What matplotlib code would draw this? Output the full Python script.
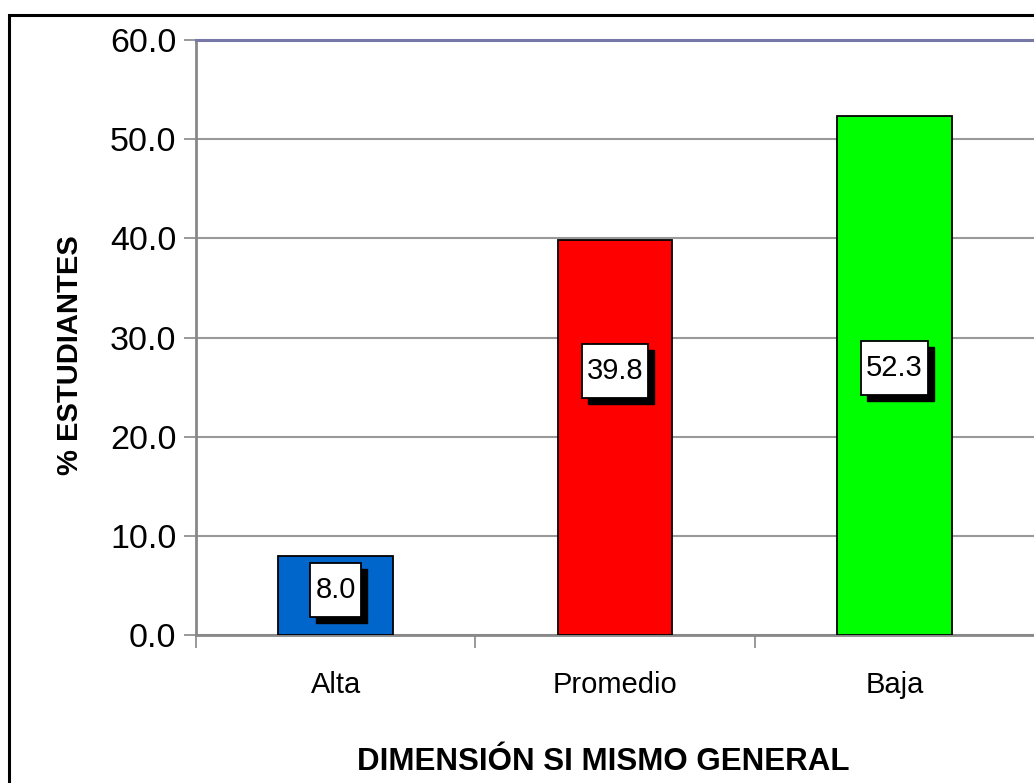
import matplotlib
matplotlib.use("Agg")
import matplotlib.pyplot as plt
from matplotlib.patches import Rectangle
import matplotlib.transforms as mtransforms
import numpy as np

categories = ["Alta", "Promedio", "Baja"]
values = [8.0, 39.8, 52.3]
label_y = [4.5, 26.6, 26.9]
colors = ["#0066CC", "#FF0000", "#00FF00"]
yticks = [0, 10, 20, 30, 40, 50, 60]

plt.rcParams['font.family'] = ['Liberation Sans', 'DejaVu Sans']
W, H = 1034, 783
fig = plt.figure(figsize=(W/100, H/100), dpi=100)
fig.patches.append(Rectangle((9/W, -0.1), 1.2, 1 - 15/H + 0.1, transform=fig.transFigure,
                             fill=False, edgecolor='black', linewidth=2.2))

ax = fig.add_axes([196/W, 1 - 635/H, 1 - 196/W, (635 - 40)/H])
x = np.arange(len(categories))
ax.bar(x, values, width=0.41, color=colors, edgecolor='black', linewidth=1.3, zorder=3)
ax.set_xlim(-0.5, 2.5)
ax.set_ylim(0, 60)
ax.set_yticks(yticks)
ax.set_yticklabels([f"{v:.1f}" for v in yticks], fontsize=24.5)
ax.yaxis.grid(True, color='#999999', linewidth=1.5, zorder=0)
ax.set_xticks(x)
ax.set_xticklabels(categories)
ax.set_xticks([-0.5, 0.5, 1.5], minor=True)
ax.tick_params(axis='x', which='major', length=0, pad=26, labelsize=21)
ax.tick_params(axis='x', which='minor', length=9, color='#888888', width=1.2)
ax.tick_params(axis='y', length=9, color='#888888', width=1.2, pad=5)
ax.spines['right'].set_visible(False)
ax.spines['top'].set_color('#7878A8')
ax.spines['top'].set_linewidth(2.2)
for s in ['left', 'bottom']:
    ax.spines[s].set_color('#888888')
    ax.spines[s].set_linewidth(2.0)

texts = []
for xi, v, ly in zip(x, values, label_y):
    t = ax.text(xi, ly, f"{v:.1f}", ha='center', va='center', fontsize=21, color='black', zorder=6)
    texts.append((xi, ly, t))

fig.canvas.draw()
r = fig.canvas.get_renderer()
for xi, ly, t in texts:
    bb = t.get_window_extent(r)
    w_in = (bb.width + 10) / 100
    h_in = 54 / 100
    tr = fig.dpi_scale_trans + mtransforms.ScaledTranslation(xi, ly, ax.transData)
    ax.add_patch(Rectangle((-w_in/2 + 0.06, -h_in/2 - 0.06), w_in, h_in, transform=tr,
                           facecolor='black', edgecolor='black', zorder=4, clip_on=False))
    ax.add_patch(Rectangle((-w_in/2, -h_in/2), w_in, h_in, transform=tr,
                           facecolor='white', edgecolor='black', linewidth=1.3, zorder=5, clip_on=False))

ax.set_ylabel("% ESTUDIANTES", fontsize=21, fontweight='bold', va='center')
ax.yaxis.set_label_coords(-(196 - 70) / (W - 196), (635 - 355) / 595)
fig.text(603/W, 1 - 762/H, "DIMENSIÓN SI MISMO GENERAL", ha='center', va='center',
         fontsize=22.5, fontweight='bold')

fig.savefig("out.png", dpi=100)
